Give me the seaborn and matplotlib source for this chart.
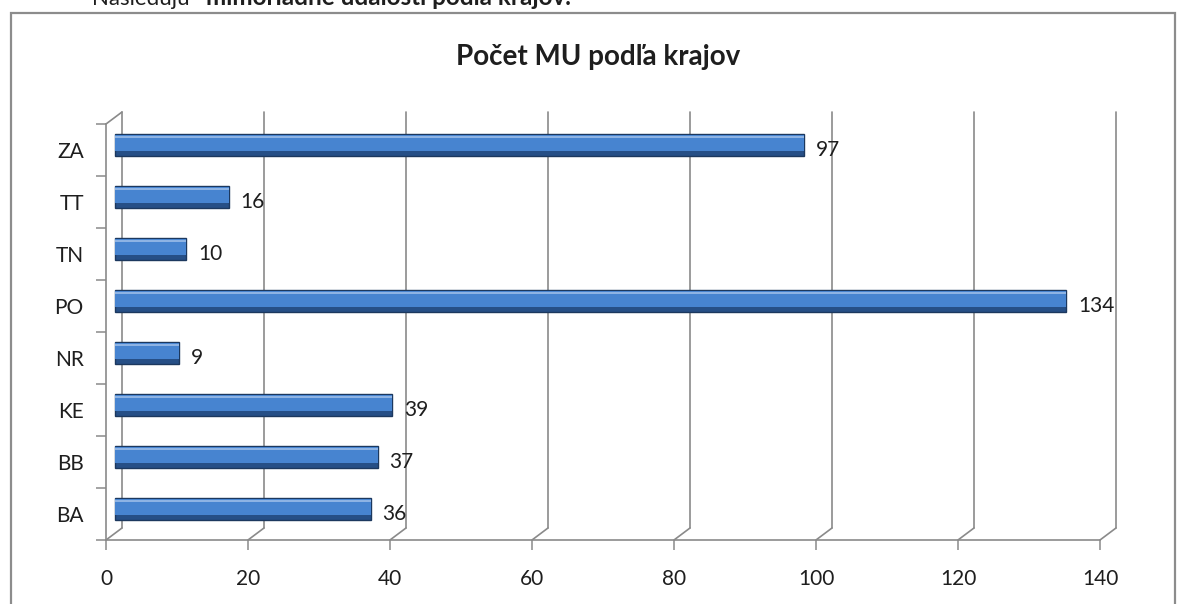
import numpy as np
import pandas as pd
import seaborn as sns
import matplotlib.pyplot as plt
from matplotlib.transforms import ScaledTranslation
from matplotlib.lines import Line2D
from matplotlib.patches import Rectangle

regions = ["ZA", "TT", "TN", "PO", "NR", "KE", "BB", "BA"]
counts = [97, 16, 10, 134, 9, 39, 37, 36]
x_ticks = [0, 20, 40, 60, 80, 100, 120, 140]
title = "Počet MU podľa krajov"
intro_plain = "Nasledujú "
intro_bold = "mimoriadne udalosti podľa krajov"

sns.set_theme(style="white")
plt.rcParams['font.family'] = ['Lato', 'DejaVu Sans']

W, H = 1179, 604
fig = plt.figure(figsize=(W / 100, H / 100), dpi=100)
fig.patch.set_facecolor("white")
ax = fig.add_axes([106 / W, (H - 540) / H, (1100 - 106) / W, (540 - 124) / H])
ax.set_facecolor("none")

grid_c = "#8a8a8a"
txt_c = "#1e1e1e"

df = pd.DataFrame({"region": regions, "count": counts})
# base (dark body), mid tone, top highlight -> pseudo-3D cylinder
layers = [("#264f86", 0.42, 5, 1.0, "#1c385e"),
          ("#4784d0", 0.30, 7, 0.0, None),
          ("#8db3e4", 0.04, 13, 0.0, None)]
start = 0
for col, wd, dy, lw, ec in layers:
    sns.barplot(data=df, x="count", y="region", order=regions, orient="h",
                color=col, width=wd, edgecolor=ec if ec else col, linewidth=lw,
                saturation=1, ax=ax)
    shift = ScaledTranslation(9 / 100, dy / 100, fig.dpi_scale_trans)
    for p in ax.patches[start:]:
        p.set_transform(ax.transData + shift)
        p.set_clip_on(False)
        p.set_zorder(3)
    start = len(ax.patches)

ax.bar_label(ax.containers[0], labels=[str(v) for v in counts], padding=15,
             fontsize=15, color=txt_c)

ax.set_xlim(0, 140)
ax.set_ylim(7.5, -0.5)
ax.set_xlabel("")
ax.set_ylabel("")

# back-wall gridlines and floor diagonals
back = ScaledTranslation(16 / 100, 12 / 100, fig.dpi_scale_trans)
for t in x_ticks:
    ax.plot([t, t], [7.5, -0.5], transform=ax.transData + back, color=grid_c,
            lw=1.2, clip_on=False, zorder=1)
    ax.add_line(Line2D([0, 0.16], [0, 0.12], color=grid_c, lw=1.2, clip_on=False,
                       transform=fig.dpi_scale_trans + ScaledTranslation(t, 7.5, ax.transData)))
ax.add_line(Line2D([0, 0.16], [0, 0.12], color=grid_c, lw=1.2, clip_on=False,
                   transform=fig.dpi_scale_trans + ScaledTranslation(0, -0.5, ax.transData)))

for s in ["top", "right"]:
    ax.spines[s].set_visible(False)
for s in ["left", "bottom"]:
    ax.spines[s].set_color(grid_c)
    ax.spines[s].set_linewidth(1.2)

ax.set_xticks(x_ticks)
ax.set_xticklabels([str(t) for t in x_ticks], fontsize=15, color=txt_c)
ax.tick_params(axis="x", length=7, width=1.1, color=grid_c, pad=14, bottom=True)
ax.set_yticks(range(len(regions)))
ax.set_yticklabels(regions, fontsize=15, color=txt_c)
ax.tick_params(axis="y", which="major", length=0, pad=16)
ax.set_yticks(np.arange(-0.5, len(regions), 1.0), minor=True)
ax.tick_params(axis="y", which="minor", length=7, width=1.1, color=grid_c, left=True)

fig.text(598 / W, 1 - 57 / H, title, ha="center", va="center", fontsize=20,
         fontweight="bold", color=txt_c)

fig.patches.append(Rectangle((11 / W, -0.05), (1175 - 11) / W, 1.05 - 13 / H,
                             transform=fig.transFigure, fill=False,
                             edgecolor="#8c8c8c", lw=1.6))

fig.text(92 / W, 1 - 5 / H, intro_plain, ha="left", va="baseline", fontsize=16, color=txt_c)
fig.text(206 / W, 1 - 5 / H, intro_bold + ".", ha="left", va="baseline", fontsize=17.5,
         fontweight="bold", color=txt_c)

fig.savefig("out.png", dpi=100)
